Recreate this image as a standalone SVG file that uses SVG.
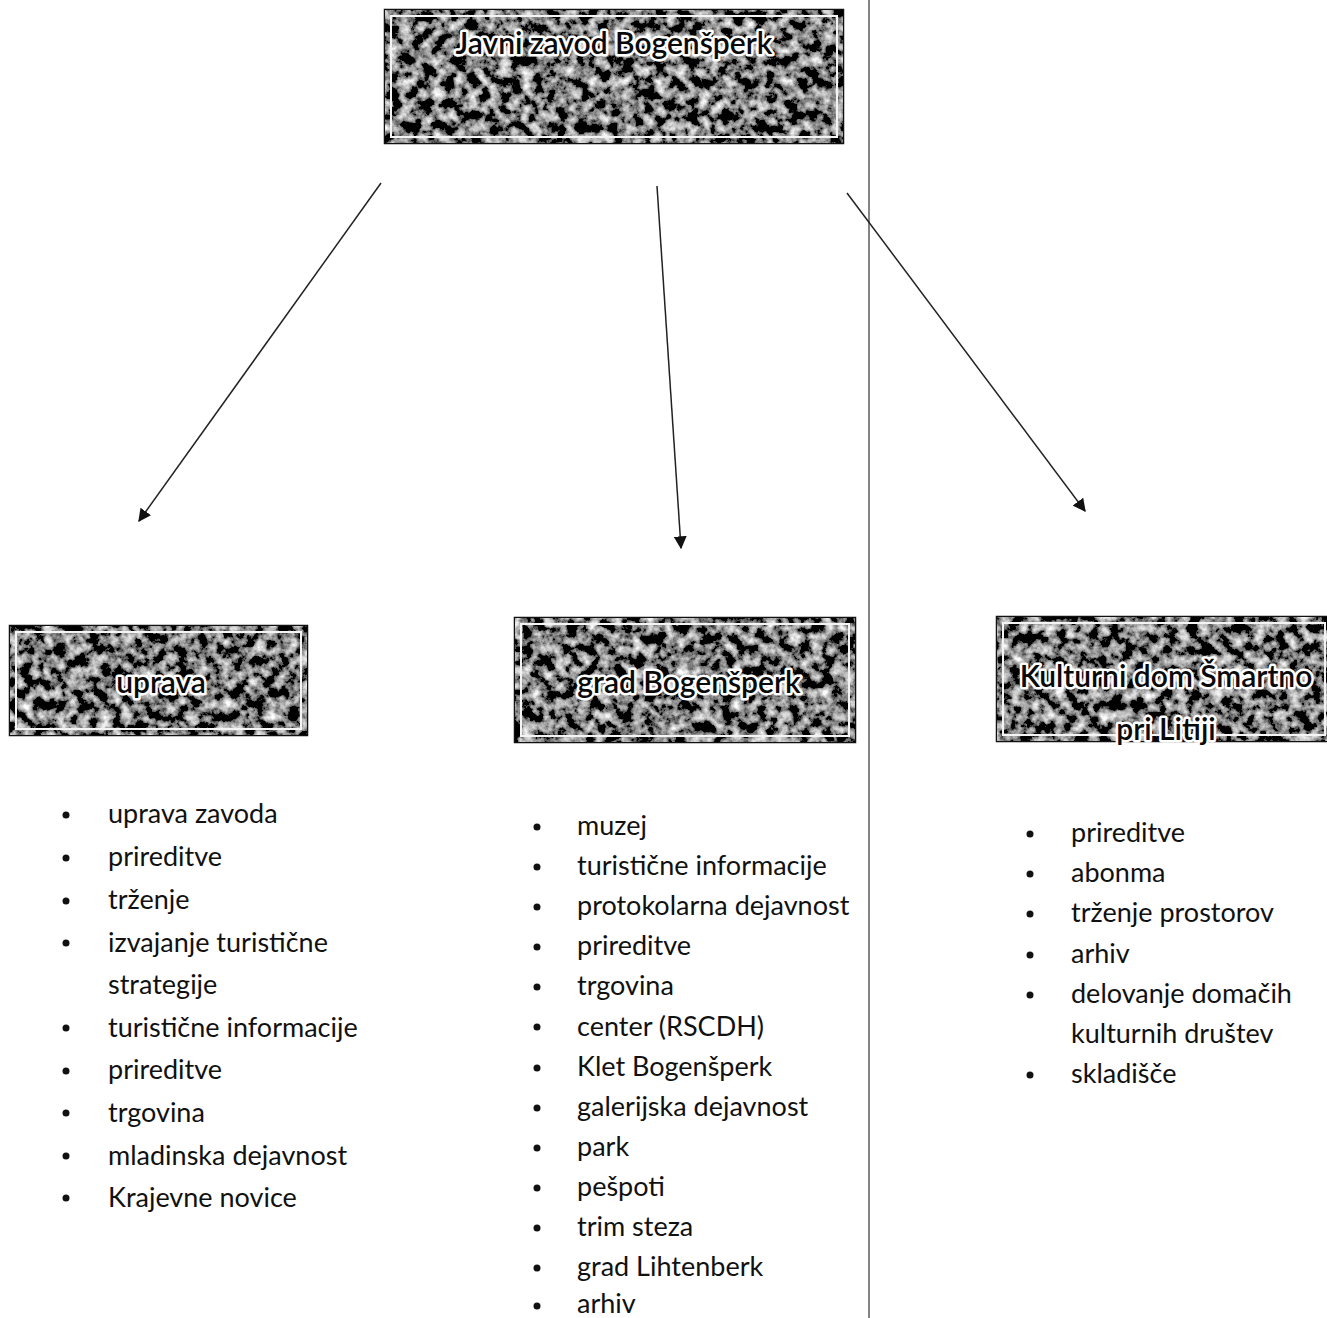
<svg xmlns="http://www.w3.org/2000/svg" width="1327" height="1318" viewBox="0 0 1327 1318">
<style>
.item{font-family:Lato,"Open Sans",sans-serif;font-size:27px;fill:#111}
.bul{fill:#111}
.title{font-family:Lato,"Open Sans",sans-serif;font-size:30px;font-weight:600;fill:#0a0a0a;stroke:#fff;stroke-width:5px;paint-order:stroke;stroke-linejoin:round}
.box{fill:#3a3a3a;stroke:#111;stroke-width:2.5}
.frame{fill:none;stroke:#f4f4f4;stroke-width:2}
.conn{stroke:#222;stroke-width:1.5;fill:none}
.vline{stroke:#333;stroke-width:1.2}
</style>
<defs>
<filter id="tex" x="0" y="0" width="100%" height="100%">
<feTurbulence type="fractalNoise" baseFrequency="0.09" numOctaves="4" seed="7" result="n"/>
<feColorMatrix in="n" type="matrix" values="2.2 0 0 0 -0.9 2.2 0 0 0 -0.9 2.2 0 0 0 -0.9 0 0 0 0 1" result="g"/>
<feComposite in="g" in2="SourceGraphic" operator="in"/>
</filter>
<marker id="ah" viewBox="0 0 10 10" refX="9" refY="5" markerWidth="13" markerHeight="13" markerUnits="userSpaceOnUse" orient="auto">
<path d="M0,0 L10,5 L0,10 Z" fill="#111"/>
</marker>
</defs>
<rect width="1327" height="1318" fill="#fff"/>
<g id="connectors">
<line class="vline" x1="869" y1="0" x2="869" y2="1318"/>
<line class="conn" x1="381" y1="183" x2="139" y2="521" marker-end="url(#ah)"/>
<line class="conn" x1="657" y1="186" x2="681" y2="548" marker-end="url(#ah)"/>
<line class="conn" x1="847" y1="193" x2="1085" y2="511" marker-end="url(#ah)"/>
</g>
<g id="node-javni">
<rect class="box" x="385" y="10" width="458" height="133"/>
<rect x="385" y="10" width="458" height="133" fill="#777" filter="url(#tex)"/>
<rect class="frame" x="391" y="16" width="446" height="121"/>
<text class="title" x="614" y="54" text-anchor="middle">Javni zavod Bogenšperk</text>
</g>
<g id="node-uprava">
<rect class="box" x="10" y="626" width="297" height="109"/>
<rect x="10" y="626" width="297" height="109" fill="#777" filter="url(#tex)"/>
<rect class="frame" x="16" y="632" width="285" height="97"/>
<text class="title" x="161" y="693" text-anchor="middle">uprava</text>
</g>
<g id="node-grad">
<rect class="box" x="515" y="618" width="340" height="124"/>
<rect x="515" y="618" width="340" height="124" fill="#777" filter="url(#tex)"/>
<rect class="frame" x="521" y="624" width="328" height="112"/>
<text class="title" x="689" y="693" text-anchor="middle">grad Bogenšperk</text>
</g>
<g id="node-kulturni">
<rect class="box" x="997" y="617" width="332" height="124"/>
<rect x="997" y="617" width="332" height="124" fill="#777" filter="url(#tex)"/>
<rect class="frame" x="1003" y="623" width="322" height="112"/>
<text class="title" x="1166" y="687" text-anchor="middle">Kulturni dom Šmartno</text>
<text class="title" x="1166" y="740" text-anchor="middle">pri Litiji</text>
</g>
<g id="list-uprava">
<circle class="bul" cx="66" cy="815" r="3.5"/><text class="item" x="108" y="823">uprava zavoda</text>
<circle class="bul" cx="66" cy="858" r="3.5"/><text class="item" x="108" y="866">prireditve</text>
<circle class="bul" cx="66" cy="901" r="3.5"/><text class="item" x="108" y="909">trženje</text>
<circle class="bul" cx="66" cy="943" r="3.5"/><text class="item" x="108" y="952">izvajanje turistične</text>
<text class="item" x="108" y="994">strategije</text>
<circle class="bul" cx="66" cy="1028" r="3.5"/><text class="item" x="108" y="1037">turistične informacije</text>
<circle class="bul" cx="66" cy="1071" r="3.5"/><text class="item" x="108" y="1079">prireditve</text>
<circle class="bul" cx="66" cy="1113" r="3.5"/><text class="item" x="108" y="1122">trgovina</text>
<circle class="bul" cx="66" cy="1156" r="3.5"/><text class="item" x="108" y="1165">mladinska dejavnost</text>
<circle class="bul" cx="66" cy="1198" r="3.5"/><text class="item" x="108" y="1207">Krajevne novice</text>
</g>
<g id="list-grad">
<circle class="bul" cx="537" cy="827" r="3.5"/><text class="item" x="577" y="835">muzej</text>
<circle class="bul" cx="537" cy="867" r="3.5"/><text class="item" x="577" y="875">turistične informacije</text>
<circle class="bul" cx="537" cy="907" r="3.5"/><text class="item" x="577" y="915">protokolarna dejavnost</text>
<circle class="bul" cx="537" cy="947" r="3.5"/><text class="item" x="577" y="955">prireditve</text>
<circle class="bul" cx="537" cy="987" r="3.5"/><text class="item" x="577" y="995">trgovina</text>
<circle class="bul" cx="537" cy="1027" r="3.5"/><text class="item" x="577" y="1036">center (RSCDH)</text>
<circle class="bul" cx="537" cy="1068" r="3.5"/><text class="item" x="577" y="1076">Klet Bogenšperk</text>
<circle class="bul" cx="537" cy="1108" r="3.5"/><text class="item" x="577" y="1116">galerijska dejavnost</text>
<circle class="bul" cx="537" cy="1148" r="3.5"/><text class="item" x="577" y="1156">park</text>
<circle class="bul" cx="537" cy="1188" r="3.5"/><text class="item" x="577" y="1196">pešpoti</text>
<circle class="bul" cx="537" cy="1228" r="3.5"/><text class="item" x="577" y="1236">trim steza</text>
<circle class="bul" cx="537" cy="1268" r="3.5"/><text class="item" x="577" y="1276">grad Lihtenberk</text>
<circle class="bul" cx="537" cy="1306" r="3.5"/><text class="item" x="577" y="1313">arhiv</text>
</g>
<g id="list-kulturni">
<circle class="bul" cx="1030" cy="834" r="3.5"/><text class="item" x="1071" y="842">prireditve</text>
<circle class="bul" cx="1030" cy="874" r="3.5"/><text class="item" x="1071" y="882">abonma</text>
<circle class="bul" cx="1030" cy="914" r="3.5"/><text class="item" x="1071" y="922">trženje prostorov</text>
<circle class="bul" cx="1030" cy="955" r="3.5"/><text class="item" x="1071" y="963">arhiv</text>
<circle class="bul" cx="1030" cy="995" r="3.5"/><text class="item" x="1071" y="1003">delovanje domačih</text>
<text class="item" x="1071" y="1043">kulturnih društev</text>
<circle class="bul" cx="1030" cy="1075" r="3.5"/><text class="item" x="1071" y="1083">skladišče</text>
</g>
</svg>
